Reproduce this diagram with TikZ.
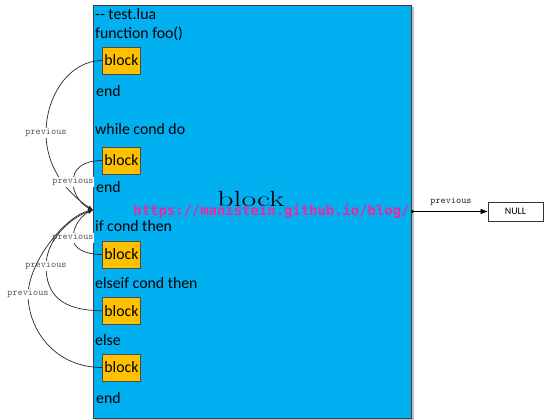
\documentclass[tikz,border=0pt]{standalone}
\usepackage{fontspec}
\newfontfamily\calfont{Carlito}
\newfontfamily\wmfont{DejaVu Sans Mono}
\usetikzlibrary{arrows.meta}
\definecolor{panelblue}{HTML}{00B0F0}
\definecolor{blockorange}{HTML}{FFC000}
\begin{document}
\begin{tikzpicture}[x=1pt,y=-1pt,
  codetext/.style={anchor=base west, inner sep=0pt, font=\calfont\fontsize{15.8}{18}\selectfont},
  blockbox/.style={draw=black!70, fill=blockorange, minimum width=38pt, minimum height=27pt, inner sep=0pt, line width=0.8pt, font=\calfont\fontsize{15.8}{18}\selectfont},
  prevlabel/.style={fill=white, inner sep=0.6pt, text=black!65, font=\ttfamily\fontsize{9.8}{10}\selectfont},
  link/.style={draw=black!85, line width=0.7pt, -{Latex[length=5pt,width=4pt]}}]
\useasboundingbox (0,0) rectangle (547,420);
% panel with shadow
\fill[black!25] (95,7) rectangle (413.5,420);
\node[draw=black!75, fill=panelblue, line width=0.9pt, minimum width=318pt, minimum height=413pt, anchor=north west, inner sep=0pt] (panel) at (93,5) {};
% code lines
\node[codetext] (t1) at (95,20) {-{}- test.lua};
\node[codetext] (t2) at (95,39) {function foo()};
\node[codetext] (t3) at (96,97) {end};
\node[codetext] (t4) at (95,135) {while cond do};
\node[codetext] (t5) at (96,192) {end};
\node[codetext] (t6) at (95,231) {if cond then};
\node[codetext] (t7) at (95,288) {elseif cond then};
\node[codetext] (t8) at (95,345) {else};
\node[codetext] (t9) at (96,403) {end};
% blocks
\node[blockbox] (b1) at (121.5,60.5) {block};
\node[blockbox] (b2) at (121.5,160.5) {block};
\node[blockbox] (b3) at (121.5,254.5) {block};
\node[blockbox] (b4) at (121.5,310.7) {block};
\node[blockbox] (b5) at (121.5,367.5) {block};
% watermark and big label
\node[anchor=base, inner sep=0pt, text=magenta!85!white] (wm) at (271.5,215) {\wmfont\bfseries\fontsize{13.9}{16}\selectfont https://manistein.github.io/blog/};
\node[anchor=base, inner sep=0pt] (big) at (251,206) {\fontsize{22}{26}\selectfont\scalebox{1.45}[1]{block}};
% junction
\coordinate (J) at (93,210);
% previous links
\draw[link] (b1.west) .. controls (70,60.5) and (46,95) .. (46,133) node[prevlabel] {previous} .. controls (46,170) and (70,195) .. (J);
\draw[link] (b2.west) .. controls (84,160.5) and (73,168) .. (73,182) node[prevlabel] {previous} .. controls (73,195) and (82,205) .. (J);
\draw[link] (b3.west) .. controls (84,254.5) and (73,248) .. (73,238) node[prevlabel] {previous} .. controls (73,226) and (82,215) .. (J);
\draw[link] (b4.west) .. controls (62,310.7) and (46,295) .. (46,266) node[prevlabel] {previous} .. controls (46,240) and (70,218) .. (J);
\draw[link] (b5.west) .. controls (55,367.5) and (28,330) .. (28,294) node[prevlabel] {previous} .. controls (30,258) and (68,215) .. (J);
% NULL
\node[draw=black!80, fill=white, minimum width=55pt, minimum height=19pt, inner sep=0pt, line width=0.8pt, font=\calfont\fontsize{10}{12}\selectfont] (null) at (515.5,211.5) {NULL};
\coordinate (pe) at (411,211.5);
\draw[line width=0.7pt, {Circle[length=3pt]}-{Triangle[length=7pt,width=5pt]}] (pe) -- (null.west);
\node[inner sep=0pt, text=black!85, font=\ttfamily\fontsize{9.8}{10}\selectfont] (plabel) at (451,202) {previous};
\end{tikzpicture}
\end{document}
